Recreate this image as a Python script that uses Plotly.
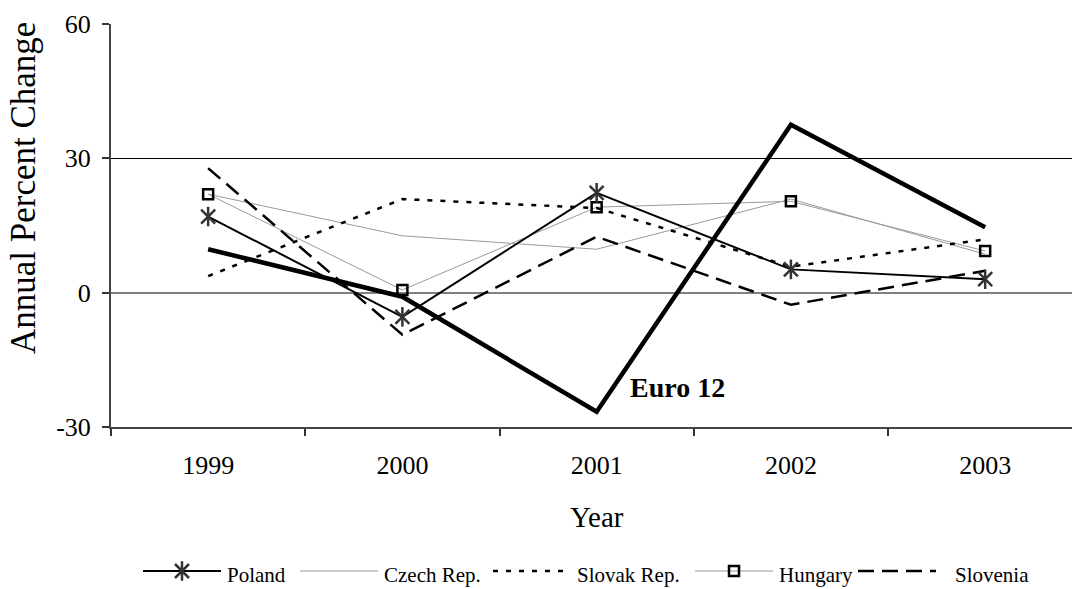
import plotly.graph_objects as go

# Annual percent change by year
years = ["1999", "2000", "2001", "2002", "2003"]
euro12 = [9.7, -0.9, -26.6, 37.5, 14.6]
poland = [17.0, -5.4, 22.3, 5.2, 3.0]
czech = [22.0, 12.7, 9.7, 20.9, 8.6]
slovak = [3.7, 20.9, 18.9, 5.8, 11.9]
hungary = [22.0, 0.6, 19.1, 20.4, 9.3]
slovenia = [27.8, -9.4, 12.5, -2.7, 4.9]
y_ticks = [-30, 0, 30, 60]
y_tick_text = ["-30", "0", "30", "60"]

FONT = "Liberation Serif"
W, H = 1072, 589
ML, MT = 111, 24
PLOT_BOTTOM = 427  # pixel row of the bottom axis

# line styles
GRAY = "#9a9a9a"
st_poland = dict(color="black", width=2)
st_czech = dict(color=GRAY, width=1)
st_slovak = dict(color="black", width=2.5, dash="5px,8px")
st_hungary = dict(color=GRAY, width=1)
st_slovenia = dict(color="black", width=2.5, dash="16px,8px")
st_euro = dict(color="black", width=4.5)

ast_x = dict(symbol="x-thin", size=14, color="#333", line=dict(color="#333", width=2.5))
ast_v = dict(symbol="line-ns", size=14, color="#333", line=dict(color="#333", width=2.5))
sq = dict(symbol="square-open", size=10, color="black", line=dict(color="black", width=2.5))

fig = go.Figure()


def add_line(y, style, name):
    fig.add_trace(go.Scatter(x=years, y=y, mode="lines", line=style, name=name,
                             hoverinfo="skip", xaxis="x", yaxis="y"))


def add_markers(y, marker, name):
    fig.add_trace(go.Scatter(x=years, y=y, mode="markers", marker=marker, name=name,
                             hoverinfo="skip", xaxis="x", yaxis="y"))


add_line(czech, st_czech, "Czech Rep.")
add_line(hungary, st_hungary, "Hungary")
add_line(slovak, st_slovak, "Slovak Rep.")
add_line(slovenia, st_slovenia, "Slovenia")
add_line(poland, st_poland, "Poland")
add_line(euro12, st_euro, "Euro 12")
add_markers(hungary, sq, "Hungary")
add_markers(poland, ast_x, "Poland")
add_markers(poland, ast_v, "Poland")

# legend drawn on a pixel-space overlay axis pair below the chart
LEG_Y = 571
SAMPLE = 78
legend_items = [
    ("Poland", st_poland, [ast_x, ast_v], 143),
    ("Czech Rep.", st_czech, [], 300),
    ("Slovak Rep.", st_slovak, [], 493),
    ("Hungary", st_hungary, [sq], 695),
    ("Slovenia", st_slovenia, [], 858),
]
annotations = []
for label, style, marks, x0 in legend_items:
    x1 = x0 + SAMPLE
    fig.add_trace(go.Scatter(x=[x0, x1], y=[LEG_Y, LEG_Y], mode="lines", line=style,
                             hoverinfo="skip", xaxis="x2", yaxis="y2"))
    for m in marks:
        fig.add_trace(go.Scatter(x=[(x0 + x1) / 2], y=[LEG_Y], mode="markers", marker=m,
                                 hoverinfo="skip", xaxis="x2", yaxis="y2"))
    annotations.append(dict(x=x1 + 4 if label != "Slovenia" else x1 + 17, y=LEG_Y + 4,
                            xref="x2", yref="y2", text=label, showarrow=False,
                            xanchor="left", yanchor="middle",
                            font=dict(family=FONT, size=21, color="black")))

# series label for the thick line, tied to its 2001 value
annotations.append(dict(x=2, y=euro12[2], xref="x", yref="y", text="<b>Euro 12</b>",
                        showarrow=False, xanchor="left", yanchor="middle",
                        xshift=31, yshift=24,
                        font=dict(family=FONT, size=28, color="black")))

plot_h = H - MT
annotations.append(dict(x=2, y=(H - 517) / plot_h, xref="x", yref="paper", text="Year",
                        showarrow=False, xanchor="center", yanchor="middle",
                        font=dict(family=FONT, size=29, color="black")))
annotations.append(dict(x=0, y=(H - 188) / plot_h, xref="paper", yref="paper",
                        text="Annual Percent Change", textangle=-90, showarrow=False,
                        xanchor="center", yanchor="middle", xshift=-88,
                        font=dict(family=FONT, size=35, color="black")))

fig.update_layout(
    width=W, height=H,
    margin=dict(l=ML, r=0, t=MT, b=0, pad=0, autoexpand=False),
    paper_bgcolor="white", plot_bgcolor="rgba(0,0,0,0)",
    showlegend=False,
    font=dict(family=FONT, color="black"),
    annotations=annotations,
    xaxis=dict(type="category", domain=[0, 1], anchor="y", automargin=False,
               range=[-0.5, 4.447], tickson="boundaries",
               ticks="outside", ticklen=7, tickwidth=1.5, tickcolor="#333",
               showline=True, linecolor="#444", linewidth=2, showgrid=False,
               tickfont=dict(family=FONT, size=26, color="black"),
               ticklabelstandoff=14),
    yaxis=dict(domain=[(H - PLOT_BOTTOM) / plot_h, 1], anchor="x", automargin=False,
               range=[-30, 60], tickvals=y_ticks, ticktext=y_tick_text,
               ticks="outside", ticklen=7, tickwidth=1.5, tickcolor="#333",
               showline=True, linecolor="#444", linewidth=2,
               showgrid=True, gridcolor="black", gridwidth=1,
               zeroline=True, zerolinecolor="#808080", zerolinewidth=1.5,
               tickfont=dict(family=FONT, size=26, color="black"),
               ticklabelstandoff=6),
    xaxis2=dict(domain=[0, 1], anchor="y2", range=[ML, W], visible=False,
                fixedrange=True, automargin=False),
    yaxis2=dict(domain=[0, 1], anchor="x2", range=[H, MT], visible=False,
                fixedrange=True, automargin=False),
)

fig.write_html("out.html")
